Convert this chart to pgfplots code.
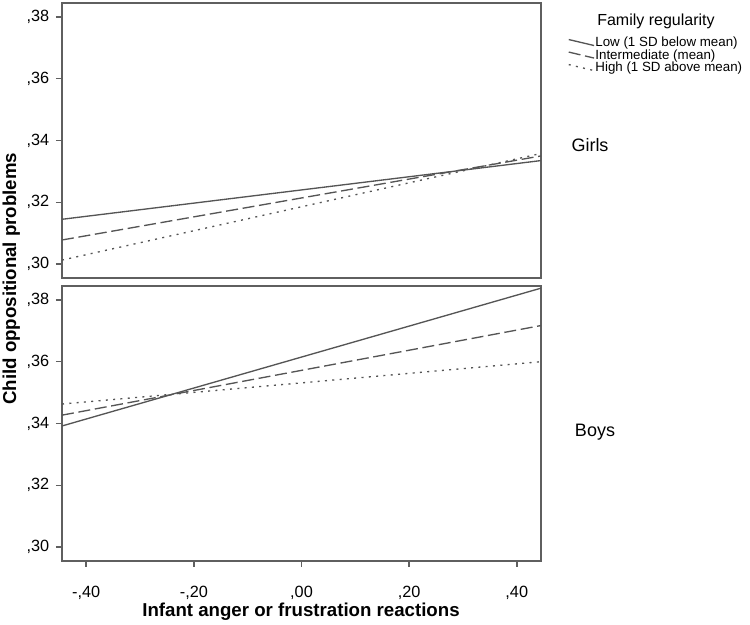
\documentclass[border=0pt]{standalone}
\usepackage{fontspec}
\setmainfont{Liberation Sans}
\usepackage{pgfplots}
\pgfplotsset{compat=1.18}
\definecolor{ln}{HTML}{555555}
\definecolor{fr}{HTML}{5F5F5F}
\pgfplotsset{
  panel/.style={
    scale only axis, width=359.25pt, height=206.25pt,
    xmin=-0.445, xmax=0.445, ymin=0.2955, ymax=0.3845,
    axis line style={fr, line width=1.1pt},
    tick style={fr, line width=1.1pt},
    tick align=outside, major tick length=4.5pt,
    ytick={0.30,0.32,0.34,0.36,0.38},
    yticklabels={{,30},{,32},{,34},{,36},{,38}},
    yticklabel style={font=\fontsize{12.2}{14}\selectfont, xshift=-1.5pt},
    xticklabel style={font=\fontsize{12.2}{14}\selectfont, yshift=-11pt},
    /pgf/number format/assume math mode=true,
    ytick pos=left, xtick pos=bottom,
    xtick={-0.4,-0.2,0,0.2,0.4},
    clip=true,
  },
  low/.style={ln, line width=1pt, solid},
  mid/.style={ln, line width=1pt, dash pattern=on 9pt off 3.5pt},
  high/.style={ln, line width=1pt, dash pattern=on 1.5pt off 4pt},
  legend image code/.code={\draw[#1] (0pt,2.5pt) -- (19pt,-2pt);},
}
\begin{document}
\begin{tikzpicture}
\path[use as bounding box] (0,0) rectangle (562.5pt,-468.75pt);
% Girls panel
\begin{axis}[panel, at={(46.5pt,-2.25pt)}, anchor=north west,
  xtick=\empty,
  legend style={at={(1.056,1.0)}, anchor=north west, draw=none, fill=none,
    font=\fontsize{10}{12}\selectfont, row sep=0pt, inner sep=0pt,
    nodes={inner sep=0pt, text height=7.4pt, text depth=2pt},
    legend cell align=left,
    /tikz/every odd column/.append style={column sep=0.5pt},
    yshift=-25pt},
]
\addplot[low] coordinates {(-0.445,0.3145) (0.445,0.3335)};
\addlegendentry{Low (1 SD below mean)}
\addplot[mid] coordinates {(-0.445,0.3078) (0.445,0.3350)};
\addlegendentry{Intermediate (mean)}
\addplot[high] coordinates {(-0.445,0.3013) (0.445,0.3358)};
\addlegendentry{High (1 SD above mean)}
\end{axis}
% Boys panel
\begin{axis}[panel, at={(46.5pt,-214.5pt)}, anchor=north west,
  xticklabels={{-,40},{-,20},{,00},{,20},{,40}}]
\addplot[low] coordinates {(-0.445,0.3392) (0.445,0.3838)};
\addplot[mid] coordinates {(-0.445,0.3427) (0.445,0.3717)};
\addplot[high] coordinates {(-0.445,0.3463) (0.445,0.3600)};
\end{axis}
% texts
\node[font=\fontsize{12}{14}\selectfont] at (492pt,-15.75pt) {Family regularity};
\node[font=\fontsize{13.5}{16}\selectfont] at (442.5pt,-108.75pt) {Girls};
\node[font=\fontsize{13.5}{16}\selectfont] at (446.25pt,-324pt) {Boys};
\node[font=\bfseries\fontsize{14}{16}\selectfont, rotate=90] at (8.5pt,-209pt) {Child oppositional problems};
\node[font=\bfseries\fontsize{14}{16}\selectfont] at (225.75pt,-459pt) {Infant anger or frustration reactions};
\end{tikzpicture}
\end{document}
